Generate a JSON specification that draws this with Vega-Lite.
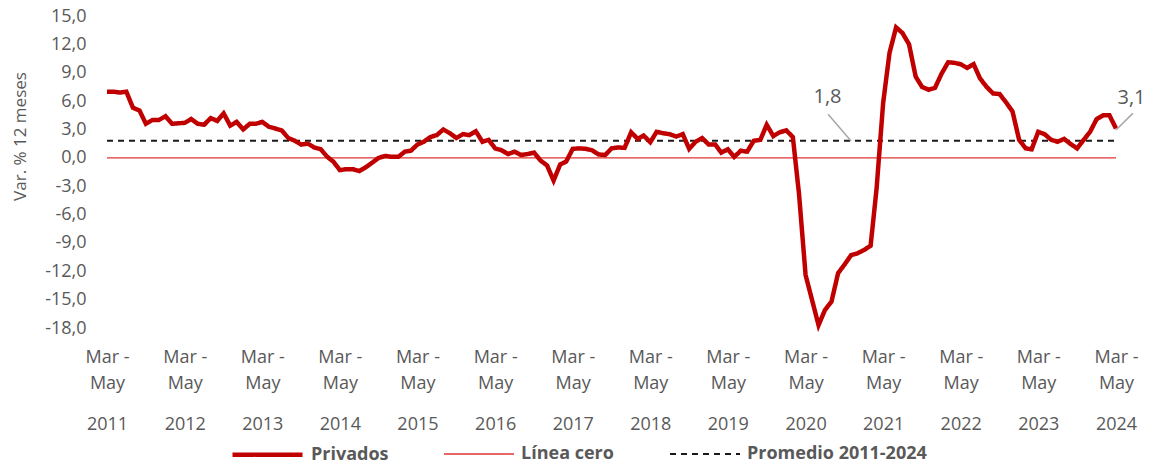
{
  "$schema": "https://vega.github.io/schema/vega-lite/v6.json",
  "width": 1009,
  "height": 312,
  "autosize": "none",
  "padding": {"left": 107, "right": 44, "top": 16, "bottom": 138},
  "background": "white",
  "config": {"view": {"stroke": null}, "font": "Open Sans"},
  "resolve": {"axis": {"x": "independent"}},
  "encoding": {
    "y": {
      "field": "valor", "type": "quantitative",
      "scale": {"domain": [-18, 15], "nice": false, "zero": false},
      "axis": {
        "title": "Var. % 12 meses", "titleFontSize": 17, "titleFontWeight": "normal", "titleColor": "#595959",
        "titleX": -87, "titleY": 120, "titleBaseline": "middle", "titleAngle": -90,
        "values": [-18, -15, -12, -9, -6, -3, 0, 3, 6, 9, 12, 15],
        "labelExpr": "replace(replace(format(datum.value, '.1f'), '.', ','), '−', '-')",
        "labelFontSize": 18, "labelColor": "#595959", "labelPadding": 21,
        "domain": false, "ticks": false, "grid": false, "labelOverlap": false
      }
    }
  },
  "layer": [
    {
      "data": {"values": [
        {"serie":"Línea cero","fecha":"2011-04-01","valor":0},
        {"serie":"Línea cero","fecha":"2024-04-01","valor":0},
        {"serie":"Promedio 2011-2024","fecha":"2011-04-01","valor":1.8},
        {"serie":"Promedio 2011-2024","fecha":"2024-04-01","valor":1.8},
        {"serie":"Privados","fecha":"2011-04-01","valor":7.0},
        {"serie":"Privados","fecha":"2011-05-01","valor":7.0},
        {"serie":"Privados","fecha":"2011-06-01","valor":6.9},
        {"serie":"Privados","fecha":"2011-07-01","valor":7.0},
        {"serie":"Privados","fecha":"2011-08-01","valor":5.3},
        {"serie":"Privados","fecha":"2011-09-01","valor":5.0},
        {"serie":"Privados","fecha":"2011-10-01","valor":3.6},
        {"serie":"Privados","fecha":"2011-11-01","valor":4.0},
        {"serie":"Privados","fecha":"2011-12-01","valor":4.0},
        {"serie":"Privados","fecha":"2012-01-01","valor":4.4},
        {"serie":"Privados","fecha":"2012-02-01","valor":3.6},
        {"serie":"Privados","fecha":"2012-03-01","valor":3.65},
        {"serie":"Privados","fecha":"2012-04-01","valor":3.7},
        {"serie":"Privados","fecha":"2012-05-01","valor":4.1},
        {"serie":"Privados","fecha":"2012-06-01","valor":3.6},
        {"serie":"Privados","fecha":"2012-07-01","valor":3.5},
        {"serie":"Privados","fecha":"2012-08-01","valor":4.2},
        {"serie":"Privados","fecha":"2012-09-01","valor":3.9},
        {"serie":"Privados","fecha":"2012-10-01","valor":4.7},
        {"serie":"Privados","fecha":"2012-11-01","valor":3.4},
        {"serie":"Privados","fecha":"2012-12-01","valor":3.8},
        {"serie":"Privados","fecha":"2013-01-01","valor":3.0},
        {"serie":"Privados","fecha":"2013-02-01","valor":3.6},
        {"serie":"Privados","fecha":"2013-03-01","valor":3.6},
        {"serie":"Privados","fecha":"2013-04-01","valor":3.8},
        {"serie":"Privados","fecha":"2013-05-01","valor":3.3},
        {"serie":"Privados","fecha":"2013-06-01","valor":3.1},
        {"serie":"Privados","fecha":"2013-07-01","valor":2.9},
        {"serie":"Privados","fecha":"2013-08-01","valor":2.1},
        {"serie":"Privados","fecha":"2013-09-01","valor":1.8},
        {"serie":"Privados","fecha":"2013-10-01","valor":1.4},
        {"serie":"Privados","fecha":"2013-11-01","valor":1.5},
        {"serie":"Privados","fecha":"2013-12-01","valor":1.1},
        {"serie":"Privados","fecha":"2014-01-01","valor":0.9},
        {"serie":"Privados","fecha":"2014-02-01","valor":0.1},
        {"serie":"Privados","fecha":"2014-03-01","valor":-0.4},
        {"serie":"Privados","fecha":"2014-04-01","valor":-1.3},
        {"serie":"Privados","fecha":"2014-05-01","valor":-1.2},
        {"serie":"Privados","fecha":"2014-06-01","valor":-1.2},
        {"serie":"Privados","fecha":"2014-07-01","valor":-1.4},
        {"serie":"Privados","fecha":"2014-08-01","valor":-1.0},
        {"serie":"Privados","fecha":"2014-09-01","valor":-0.5},
        {"serie":"Privados","fecha":"2014-10-01","valor":0.0},
        {"serie":"Privados","fecha":"2014-11-01","valor":0.2},
        {"serie":"Privados","fecha":"2014-12-01","valor":0.1},
        {"serie":"Privados","fecha":"2015-01-01","valor":0.1},
        {"serie":"Privados","fecha":"2015-02-01","valor":0.65},
        {"serie":"Privados","fecha":"2015-03-01","valor":0.75},
        {"serie":"Privados","fecha":"2015-04-01","valor":1.4},
        {"serie":"Privados","fecha":"2015-05-01","valor":1.7},
        {"serie":"Privados","fecha":"2015-06-01","valor":2.2},
        {"serie":"Privados","fecha":"2015-07-01","valor":2.4},
        {"serie":"Privados","fecha":"2015-08-01","valor":3.0},
        {"serie":"Privados","fecha":"2015-09-01","valor":2.6},
        {"serie":"Privados","fecha":"2015-10-01","valor":2.1},
        {"serie":"Privados","fecha":"2015-11-01","valor":2.5},
        {"serie":"Privados","fecha":"2015-12-01","valor":2.4},
        {"serie":"Privados","fecha":"2016-01-01","valor":2.8},
        {"serie":"Privados","fecha":"2016-02-01","valor":1.7},
        {"serie":"Privados","fecha":"2016-03-01","valor":1.9},
        {"serie":"Privados","fecha":"2016-04-01","valor":1.0},
        {"serie":"Privados","fecha":"2016-05-01","valor":0.8},
        {"serie":"Privados","fecha":"2016-06-01","valor":0.4},
        {"serie":"Privados","fecha":"2016-07-01","valor":0.65},
        {"serie":"Privados","fecha":"2016-08-01","valor":0.3},
        {"serie":"Privados","fecha":"2016-09-01","valor":0.4},
        {"serie":"Privados","fecha":"2016-10-01","valor":0.55},
        {"serie":"Privados","fecha":"2016-11-01","valor":-0.3},
        {"serie":"Privados","fecha":"2016-12-01","valor":-0.8},
        {"serie":"Privados","fecha":"2017-01-01","valor":-2.4},
        {"serie":"Privados","fecha":"2017-02-01","valor":-0.7},
        {"serie":"Privados","fecha":"2017-03-01","valor":-0.4},
        {"serie":"Privados","fecha":"2017-04-01","valor":0.95},
        {"serie":"Privados","fecha":"2017-05-01","valor":1.0},
        {"serie":"Privados","fecha":"2017-06-01","valor":0.95},
        {"serie":"Privados","fecha":"2017-07-01","valor":0.8},
        {"serie":"Privados","fecha":"2017-08-01","valor":0.35},
        {"serie":"Privados","fecha":"2017-09-01","valor":0.3},
        {"serie":"Privados","fecha":"2017-10-01","valor":1.0},
        {"serie":"Privados","fecha":"2017-11-01","valor":1.1},
        {"serie":"Privados","fecha":"2017-12-01","valor":1.05},
        {"serie":"Privados","fecha":"2018-01-01","valor":2.7},
        {"serie":"Privados","fecha":"2018-02-01","valor":2.0},
        {"serie":"Privados","fecha":"2018-03-01","valor":2.35},
        {"serie":"Privados","fecha":"2018-04-01","valor":1.65},
        {"serie":"Privados","fecha":"2018-05-01","valor":2.75},
        {"serie":"Privados","fecha":"2018-06-01","valor":2.6},
        {"serie":"Privados","fecha":"2018-07-01","valor":2.5},
        {"serie":"Privados","fecha":"2018-08-01","valor":2.25},
        {"serie":"Privados","fecha":"2018-09-01","valor":2.5},
        {"serie":"Privados","fecha":"2018-10-01","valor":0.95},
        {"serie":"Privados","fecha":"2018-11-01","valor":1.7},
        {"serie":"Privados","fecha":"2018-12-01","valor":2.1},
        {"serie":"Privados","fecha":"2019-01-01","valor":1.4},
        {"serie":"Privados","fecha":"2019-02-01","valor":1.4},
        {"serie":"Privados","fecha":"2019-03-01","valor":0.55},
        {"serie":"Privados","fecha":"2019-04-01","valor":0.9},
        {"serie":"Privados","fecha":"2019-05-01","valor":0.1},
        {"serie":"Privados","fecha":"2019-06-01","valor":0.75},
        {"serie":"Privados","fecha":"2019-07-01","valor":0.65},
        {"serie":"Privados","fecha":"2019-08-01","valor":1.8},
        {"serie":"Privados","fecha":"2019-09-01","valor":1.9},
        {"serie":"Privados","fecha":"2019-10-01","valor":3.5},
        {"serie":"Privados","fecha":"2019-11-01","valor":2.3},
        {"serie":"Privados","fecha":"2019-12-01","valor":2.7},
        {"serie":"Privados","fecha":"2020-01-01","valor":2.9},
        {"serie":"Privados","fecha":"2020-02-01","valor":2.2},
        {"serie":"Privados","fecha":"2020-03-01","valor":-3.8},
        {"serie":"Privados","fecha":"2020-04-01","valor":-12.4},
        {"serie":"Privados","fecha":"2020-05-01","valor":-15.0},
        {"serie":"Privados","fecha":"2020-06-01","valor":-17.7},
        {"serie":"Privados","fecha":"2020-07-01","valor":-16.1},
        {"serie":"Privados","fecha":"2020-08-01","valor":-15.2},
        {"serie":"Privados","fecha":"2020-09-01","valor":-12.2},
        {"serie":"Privados","fecha":"2020-10-01","valor":-11.3},
        {"serie":"Privados","fecha":"2020-11-01","valor":-10.3},
        {"serie":"Privados","fecha":"2020-12-01","valor":-10.1},
        {"serie":"Privados","fecha":"2021-01-01","valor":-9.75},
        {"serie":"Privados","fecha":"2021-02-01","valor":-9.3},
        {"serie":"Privados","fecha":"2021-03-01","valor":-3.3},
        {"serie":"Privados","fecha":"2021-04-01","valor":5.8},
        {"serie":"Privados","fecha":"2021-05-01","valor":11.1},
        {"serie":"Privados","fecha":"2021-06-01","valor":13.8},
        {"serie":"Privados","fecha":"2021-07-01","valor":13.2},
        {"serie":"Privados","fecha":"2021-08-01","valor":12.0},
        {"serie":"Privados","fecha":"2021-09-01","valor":8.6},
        {"serie":"Privados","fecha":"2021-10-01","valor":7.5},
        {"serie":"Privados","fecha":"2021-11-01","valor":7.2},
        {"serie":"Privados","fecha":"2021-12-01","valor":7.4},
        {"serie":"Privados","fecha":"2022-01-01","valor":8.9},
        {"serie":"Privados","fecha":"2022-02-01","valor":10.1},
        {"serie":"Privados","fecha":"2022-03-01","valor":10.05},
        {"serie":"Privados","fecha":"2022-04-01","valor":9.9},
        {"serie":"Privados","fecha":"2022-05-01","valor":9.5},
        {"serie":"Privados","fecha":"2022-06-01","valor":9.9},
        {"serie":"Privados","fecha":"2022-07-01","valor":8.4},
        {"serie":"Privados","fecha":"2022-08-01","valor":7.5},
        {"serie":"Privados","fecha":"2022-09-01","valor":6.8},
        {"serie":"Privados","fecha":"2022-10-01","valor":6.75},
        {"serie":"Privados","fecha":"2022-11-01","valor":5.85},
        {"serie":"Privados","fecha":"2022-12-01","valor":4.9},
        {"serie":"Privados","fecha":"2023-01-01","valor":1.9},
        {"serie":"Privados","fecha":"2023-02-01","valor":1.0},
        {"serie":"Privados","fecha":"2023-03-01","valor":0.9},
        {"serie":"Privados","fecha":"2023-04-01","valor":2.75},
        {"serie":"Privados","fecha":"2023-05-01","valor":2.5},
        {"serie":"Privados","fecha":"2023-06-01","valor":1.9},
        {"serie":"Privados","fecha":"2023-07-01","valor":1.7},
        {"serie":"Privados","fecha":"2023-08-01","valor":2.0},
        {"serie":"Privados","fecha":"2023-09-01","valor":1.45},
        {"serie":"Privados","fecha":"2023-10-01","valor":1.0},
        {"serie":"Privados","fecha":"2023-11-01","valor":1.9},
        {"serie":"Privados","fecha":"2023-12-01","valor":2.75},
        {"serie":"Privados","fecha":"2024-01-01","valor":4.1},
        {"serie":"Privados","fecha":"2024-02-01","valor":4.5},
        {"serie":"Privados","fecha":"2024-03-01","valor":4.5},
        {"serie":"Privados","fecha":"2024-04-01","valor":3.1}
      ]},
      "mark": {"type": "line", "clip": false},
      "encoding": {
        "x": {
          "field": "fecha", "type": "temporal",
          "scale": {"domain": [{"year": 2011, "month": 4, "date": 1, "utc": true}, {"year": 2024, "month": 4, "date": 1, "utc": true}]},
          "axis": {
            "title": null, "orient": "bottom", "domain": false, "ticks": false, "grid": false,
            "values": [
              {"year": 2011, "month": 4, "date": 1, "utc": true}, {"year": 2012, "month": 4, "date": 1, "utc": true},
              {"year": 2013, "month": 4, "date": 1, "utc": true}, {"year": 2014, "month": 4, "date": 1, "utc": true},
              {"year": 2015, "month": 4, "date": 1, "utc": true}, {"year": 2016, "month": 4, "date": 1, "utc": true},
              {"year": 2017, "month": 4, "date": 1, "utc": true}, {"year": 2018, "month": 4, "date": 1, "utc": true},
              {"year": 2019, "month": 4, "date": 1, "utc": true}, {"year": 2020, "month": 4, "date": 1, "utc": true},
              {"year": 2021, "month": 4, "date": 1, "utc": true}, {"year": 2022, "month": 4, "date": 1, "utc": true},
              {"year": 2023, "month": 4, "date": 1, "utc": true}, {"year": 2024, "month": 4, "date": 1, "utc": true}
            ],
            "labelExpr": "['Mar -', 'May']",
            "labelLineHeight": 26, "labelFontSize": 18, "labelColor": "#595959",
            "labelPadding": 20, "labelOverlap": false, "labelFlush": false
          }
        },
        "color": {
          "field": "serie", "type": "nominal",
          "scale": {"domain": ["Privados", "Línea cero", "Promedio 2011-2024"], "range": ["#c00000", "#e03434", "#1a1a1a"]},
          "legend": {
            "title": null, "orient": "none", "direction": "horizontal", "legendX": 123, "legendY": 401,
            "symbolType": "stroke", "symbolSize": 4900, "labelFontSize": 18, "labelFontWeight": "bold",
            "labelColor": "#595959", "labelOffset": 6, "columnPadding": 52, "labelLimit": 400, "padding": 0
          }
        },
        "strokeDash": {
          "field": "serie", "type": "nominal",
          "scale": {"domain": ["Privados", "Línea cero", "Promedio 2011-2024"], "range": [[1, 0], [1, 0], [6, 5]]},
          "legend": {
            "title": null, "orient": "none", "direction": "horizontal", "legendX": 123, "legendY": 401,
            "symbolType": "stroke", "symbolSize": 4900, "labelFontSize": 18, "labelFontWeight": "bold",
            "labelColor": "#595959", "labelOffset": 6, "columnPadding": 52, "labelLimit": 400, "padding": 0
          }
        },
        "strokeWidth": {
          "field": "serie", "type": "nominal",
          "scale": {"type": "ordinal", "domain": ["Privados", "Línea cero", "Promedio 2011-2024"], "range": [4.5, 1.3, 2]},
          "legend": {
            "title": null, "orient": "none", "direction": "horizontal", "legendX": 123, "legendY": 401,
            "symbolType": "stroke", "symbolSize": 4900, "labelFontSize": 18, "labelFontWeight": "bold",
            "labelColor": "#595959", "labelOffset": 6, "columnPadding": 52, "labelLimit": 400, "padding": 0
          }
        }
      }
    },
    {
      "data": {"values": [
        {"fecha": "2020-11-01", "valor": 1.78, "fecha2": "2020-07-16", "valor2": 4.6},
        {"fecha": "2024-04-01", "valor": 2.94, "fecha2": "2024-06-19", "valor2": 4.7}
      ]},
      "mark": {"type": "rule", "color": "#a6a6a6", "strokeWidth": 1.5, "clip": false},
      "encoding": {
        "x": {
          "field": "fecha", "type": "temporal",
          "axis": {
            "title": null, "orient": "bottom", "domain": false, "ticks": false, "grid": false,
            "values": [
              {"year": 2011, "month": 4, "date": 1, "utc": true}, {"year": 2012, "month": 4, "date": 1, "utc": true},
              {"year": 2013, "month": 4, "date": 1, "utc": true}, {"year": 2014, "month": 4, "date": 1, "utc": true},
              {"year": 2015, "month": 4, "date": 1, "utc": true}, {"year": 2016, "month": 4, "date": 1, "utc": true},
              {"year": 2017, "month": 4, "date": 1, "utc": true}, {"year": 2018, "month": 4, "date": 1, "utc": true},
              {"year": 2019, "month": 4, "date": 1, "utc": true}, {"year": 2020, "month": 4, "date": 1, "utc": true},
              {"year": 2021, "month": 4, "date": 1, "utc": true}, {"year": 2022, "month": 4, "date": 1, "utc": true},
              {"year": 2023, "month": 4, "date": 1, "utc": true}, {"year": 2024, "month": 4, "date": 1, "utc": true}
            ],
            "labelExpr": "utcFormat(datum.value, '%Y')",
            "labelFontSize": 18, "labelColor": "#595959",
            "labelPadding": 87, "labelOverlap": false, "labelFlush": false
          }
        },
        "x2": {"field": "fecha2"},
        "y2": {"field": "valor2"}
      }
    },
    {
      "data": {"values": [
        {"fecha": "2020-07-13", "valor": 6.43, "etiqueta": "1,8"},
        {"fecha": "2024-06-13", "valor": 6.3, "etiqueta": "3,1"}
      ]},
      "mark": {"type": "text", "fontSize": 20, "color": "#595959", "baseline": "middle", "align": "center", "clip": false},
      "encoding": {
        "x": {"field": "fecha", "type": "temporal", "axis": null},
        "text": {"field": "etiqueta"}
      }
    }
  ]
}
